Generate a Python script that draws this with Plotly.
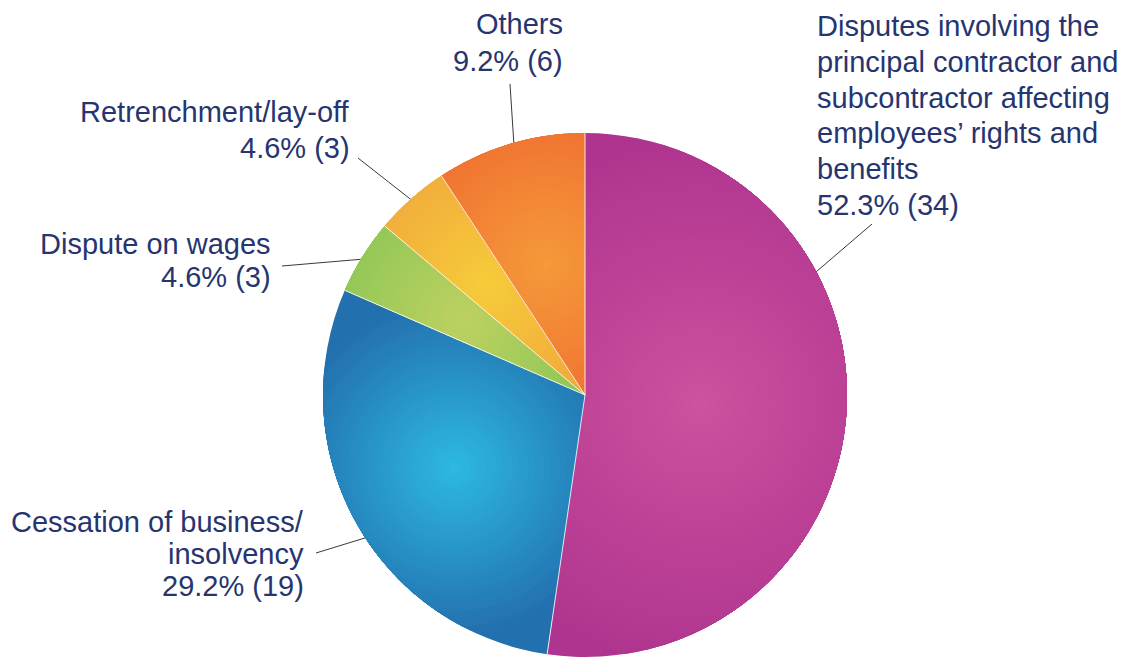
import numpy as np
import plotly.graph_objects as go

# ---- data -------------------------------------------------------------
categories = [
    "Disputes involving the principal contractor and subcontractor affecting employees’ rights and benefits",
    "Cessation of business/ insolvency",
    "Dispute on wages",
    "Retrenchment/lay-off",
    "Others",
]
label_lines = [
    ["Disputes involving the", "principal contractor and", "subcontractor affecting",
     "employees’ rights and", "benefits"],
    ["Cessation of business/", "insolvency"],
    ["Dispute on wages"],
    ["Retrenchment/lay-off"],
    ["Others"],
]
counts = [34, 19, 3, 3, 6]

# ---- styling ----------------------------------------------------------
edge_colors = ["#AF348F", "#2370AE", "#8BC655", "#F0A93C", "#F07131"]
glow_colors = ["#CD529E", "#2DBAE3", "#BED161", "#F6CC3A", "#F59A3A"]
glow_offset = [0.44, 0.57, 0.55, 0.57, 0.52]    # glow centre, fraction of radius along mid-angle
glow_reach = [270, 170, 150, 140, 150]          # px until colour reaches the edge tone

W, H = 1127, 657
CX, CY, R = 585, 395, 262
TEXT_COLOR = "#263570"
FONT = "Liberation Sans, Arial, sans-serif"
FONT_SIZE = 29

# label placement: x of the text edge, centre of first line, line step (px),
# position of leader attach within slice, and outer end of the leader line (px)
label_pos = [
    dict(x=815, y=26, step=35.8, xanchor="left", frac=0.33, end=(872, 224)),
    dict(x=306, y=522, step=32.0, xanchor="right", frac=0.46, end=(316, 553)),
    dict(x=273, y=244, step=33.0, xanchor="right", frac=0.50, end=(282, 266)),
    dict(x=352, y=112, step=36.0, xanchor="right", frac=0.50, end=(358, 158)),
    dict(x=565, y=24, step=37.0, xanchor="right", frac=0.52, end=(510, 84)),
]

total = sum(counts)
fracs = np.array(counts) / total
bounds = np.concatenate([[0], np.cumsum(fracs)]) * 2 * np.pi   # clockwise from 12 o'clock


def rim(theta, r=R):
    return CX + r * np.sin(theta), CY - r * np.cos(theta)


def hex_to_rgb(h):
    h = h.lstrip("#")
    return np.array([int(h[i:i + 2], 16) for i in (0, 2, 4)], dtype=float)


def mix(c0, c1, s):
    c = hex_to_rgb(c0) * (1 - s) + hex_to_rgb(c1) * s
    return "rgb({:.0f},{:.0f},{:.0f})".format(*c)


def glow_path(a0, a1, hx, hy, rad):
    """Outline of (slice wedge) ∩ (disk around the glow centre), as an SVG path."""
    n = max(40, int(np.degrees(a1 - a0) * 2))
    th = np.linspace(a0, a1, n)
    ux, uy = np.sin(th), -np.cos(th)
    px, py = hx - CX, hy - CY
    b = ux * px + uy * py
    disc = b * b - (px * px + py * py) + rad * rad
    ok = disc >= 0
    sq = np.sqrt(np.where(ok, disc, 0))
    t1 = np.clip(b - sq, 0, R)
    t2 = np.clip(b + sq, 0, R)
    ok &= t2 > t1
    if ok.sum() < 2:
        return None
    ux, uy, t1, t2 = ux[ok], uy[ok], t1[ok], t2[ok]
    outer = [(CX + t * x, CY + t * y) for t, x, y in zip(t2, ux, uy)]
    inner = [(CX + t * x, CY + t * y) for t, x, y in zip(t1[::-1], ux[::-1], uy[::-1])]
    pts = outer + inner
    return "M " + " L ".join(f"{x:.2f},{y:.2f}" for x, y in pts) + " Z"


fig = go.Figure()

# leader lines (drawn in a pixel-space cartesian layer beneath the pie)
for i, lp in enumerate(label_pos):
    theta = bounds[i] + lp["frac"] * (bounds[i + 1] - bounds[i])
    x0, y0 = rim(theta, R - 4)
    fig.add_trace(go.Scatter(
        x=[lp["end"][0], x0], y=[lp["end"][1], y0], mode="lines",
        line=dict(color="#3a3a3a", width=1), hoverinfo="skip", showlegend=False,
    ))

# the pie itself
fig.add_trace(go.Pie(
    labels=categories, values=counts, sort=False, direction="clockwise", rotation=0,
    marker=dict(colors=edge_colors, line=dict(color="white", width=0)),
    textinfo="none", showlegend=False,
    domain=dict(x=[(CX - R) / W, (CX + R) / W], y=[(H - CY - R) / H, (H - CY + R) / H]),
))

# radial glow inside every slice
shapes = []
N = 32
for i in range(len(counts)):
    a0, a1 = bounds[i], bounds[i + 1]
    mid = 0.5 * (a0 + a1)
    hx, hy = rim(mid, glow_offset[i] * R)
    for k in range(1, N):
        rad = glow_reach[i] * (1 - k / N)
        s = 1 - rad / glow_reach[i]
        path = glow_path(a0, a1, hx, hy, rad)
        if path is None:
            continue
        shapes.append(dict(type="path", path=path, xref="x", yref="y", layer="above",
                           fillcolor=mix(edge_colors[i], glow_colors[i], s),
                           line=dict(width=0)))

# thin light separators between slices
for a in bounds[:-1]:
    x1, y1 = rim(a)
    shapes.append(dict(type="line", x0=CX, y0=CY, x1=x1, y1=y1, xref="x", yref="y",
                       layer="above", line=dict(color="rgba(255,255,255,0.85)", width=1)))

# labels: one annotation per text line so the line spacing can be set per label
annotations = []
for i, lp in enumerate(label_pos):
    pct = 100 * counts[i] / total
    lines = label_lines[i] + [f"{pct:.1f}% ({counts[i]})"]
    for j, line in enumerate(lines):
        annotations.append(dict(
            x=lp["x"], y=lp["y"] + j * lp["step"], xref="x", yref="y", showarrow=False,
            xanchor=lp["xanchor"], yanchor="middle", text=line,
            font=dict(family=FONT, size=FONT_SIZE, color=TEXT_COLOR),
        ))

fig.update_layout(
    width=W, height=H, margin=dict(l=0, r=0, t=0, b=0),
    paper_bgcolor="white", plot_bgcolor="white",
    xaxis=dict(range=[0, W], visible=False, fixedrange=True),
    yaxis=dict(range=[H, 0], visible=False, fixedrange=True),
    shapes=shapes, annotations=annotations, showlegend=False,
)

fig.write_html("out.html")
